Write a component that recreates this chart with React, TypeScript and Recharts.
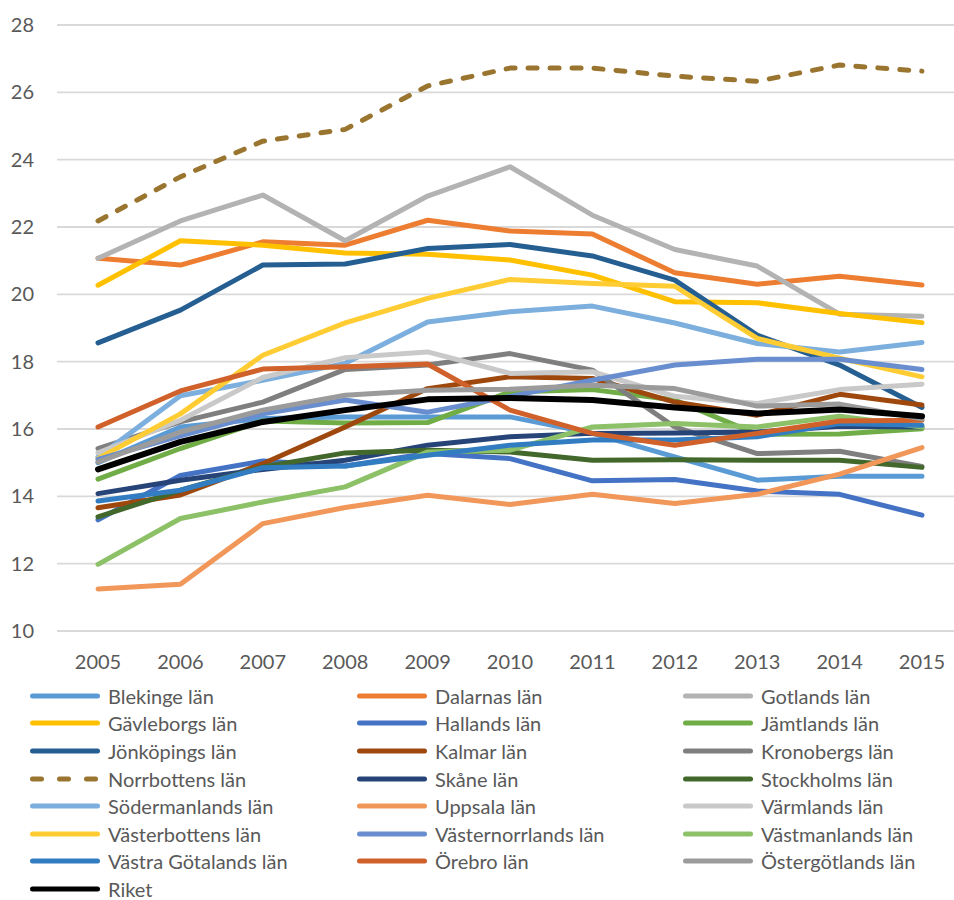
import React from 'react';
import { LineChart, Line, XAxis, YAxis, CartesianGrid, Legend } from 'recharts';

const years = ['2005', '2006', '2007', '2008', '2009', '2010', '2011', '2012', '2013', '2014', '2015'];
const yTicks = [10, 12, 14, 16, 18, 20, 22, 24, 26, 28];

const blekinge = [15.0, 16.06, 16.31, 16.36, 16.36, 16.36, 15.87, 15.17, 14.48, 14.6, 14.6];
const dalarna = [21.07, 20.87, 21.56, 21.46, 22.2, 21.88, 21.79, 20.64, 20.3, 20.54, 20.28];
const gotland = [21.07, 22.18, 22.95, 21.59, 22.92, 23.79, 22.35, 21.33, 20.84, 19.41, 19.35];
const gavleborg = [20.27, 21.59, 21.46, 21.23, 21.19, 21.02, 20.57, 19.78, 19.75, 19.43, 19.16];
const halland = [13.3, 14.62, 15.05, 14.9, 15.27, 15.12, 14.46, 14.5, 14.16, 14.06, 13.44];
const jamtland = [14.51, 15.42, 16.24, 16.18, 16.19, 17.1, 17.17, 16.86, 15.84, 15.85, 16.01];
const jonkoping = [18.56, 19.53, 20.87, 20.9, 21.36, 21.48, 21.14, 20.42, 18.79, 17.9, 16.64];
const kalmar = [13.66, 14.04, 14.97, 16.06, 17.2, 17.55, 17.5, 16.8, 16.41, 17.03, 16.71];
const kronoberg = [15.42, 16.21, 16.8, 17.77, 17.9, 18.24, 17.75, 16.06, 15.27, 15.34, 14.89];
const norrbotten = [22.18, 23.49, 24.55, 24.9, 26.19, 26.72, 26.72, 26.48, 26.33, 26.81, 26.63];
const skane = [14.08, 14.48, 14.8, 15.07, 15.52, 15.77, 15.87, 15.88, 15.91, 16.08, 16.06];
const stockholm = [13.39, 14.18, 14.87, 15.29, 15.37, 15.32, 15.07, 15.09, 15.07, 15.07, 14.86];
const sodermanland = [15.17, 16.99, 17.45, 17.95, 19.18, 19.48, 19.65, 19.15, 18.54, 18.29, 18.57];
const uppsala = [11.25, 11.39, 13.19, 13.67, 14.03, 13.76, 14.06, 13.79, 14.06, 14.66, 15.45];
const varmland = [15.29, 16.26, 17.53, 18.12, 18.29, 17.65, 17.7, 16.97, 16.76, 17.17, 17.33];
const vasterbotten = [15.12, 16.45, 18.19, 19.15, 19.88, 20.44, 20.32, 20.24, 18.69, 18.1, 17.55];
const vasternorrland = [15.1, 15.8, 16.45, 16.86, 16.5, 16.97, 17.45, 17.9, 18.07, 18.07, 17.77];
const vastmanland = [11.98, 13.34, 13.83, 14.28, 15.32, 15.37, 16.06, 16.16, 16.06, 16.38, 16.06];
const vastraGotaland = [13.86, 14.18, 14.85, 14.9, 15.22, 15.52, 15.67, 15.67, 15.77, 16.16, 16.11];
const orebro = [16.06, 17.13, 17.78, 17.85, 17.93, 16.56, 15.87, 15.52, 15.87, 16.24, 16.26];
const ostergotland = [15.02, 15.91, 16.56, 17.0, 17.15, 17.18, 17.3, 17.2, 16.68, 16.74, 16.3];
const riket = [14.8, 15.62, 16.21, 16.56, 16.88, 16.92, 16.86, 16.64, 16.46, 16.58, 16.38];

type Series = { key: string; name: string; values: number[]; color: string; width: number; dash?: string };

const series: Series[] = [
  { key: 's1', name: 'Blekinge län', values: blekinge, color: '#5B9BD5', width: 5 },
  { key: 's2', name: 'Dalarnas län', values: dalarna, color: '#ED7D31', width: 5 },
  { key: 's3', name: 'Gotlands län', values: gotland, color: '#B3B3B3', width: 5 },
  { key: 's4', name: 'Gävleborgs län', values: gavleborg, color: '#FFC000', width: 5 },
  { key: 's5', name: 'Hallands län', values: halland, color: '#4472C4', width: 5 },
  { key: 's6', name: 'Jämtlands län', values: jamtland, color: '#70AD47', width: 5 },
  { key: 's7', name: 'Jönköpings län', values: jonkoping, color: '#255E91', width: 5 },
  { key: 's8', name: 'Kalmar län', values: kalmar, color: '#9E480E', width: 5 },
  { key: 's9', name: 'Kronobergs län', values: kronoberg, color: '#7F7F7F', width: 5 },
  { key: 's10', name: 'Norrbottens län', values: norrbotten, color: '#9A7530', width: 5, dash: '9 13' },
  { key: 's11', name: 'Skåne län', values: skane, color: '#264478', width: 5 },
  { key: 's12', name: 'Stockholms län', values: stockholm, color: '#43682B', width: 5 },
  { key: 's13', name: 'Södermanlands län', values: sodermanland, color: '#7CAFDD', width: 5 },
  { key: 's14', name: 'Uppsala län', values: uppsala, color: '#F1975A', width: 5 },
  { key: 's15', name: 'Värmlands län', values: varmland, color: '#C9C9C9', width: 5 },
  { key: 's16', name: 'Västerbottens län', values: vasterbotten, color: '#FFCD33', width: 5 },
  { key: 's17', name: 'Västernorrlands län', values: vasternorrland, color: '#698ED0', width: 5 },
  { key: 's18', name: 'Västmanlands län', values: vastmanland, color: '#8CC168', width: 5 },
  { key: 's19', name: 'Västra Götalands län', values: vastraGotaland, color: '#327DC2', width: 5 },
  { key: 's20', name: 'Örebro län', values: orebro, color: '#D0612B', width: 5 },
  { key: 's21', name: 'Östergötlands län', values: ostergotland, color: '#9B9B9B', width: 5 },
  { key: 's22', name: 'Riket', values: riket, color: '#000000', width: 6 },
];

const data = years.map((year, i) => {
  const row: Record<string, string | number> = { year };
  series.forEach((s) => {
    row[s.key] = s.values[i];
  });
  return row;
});

const FONT = 'Lato, "Open Sans", sans-serif';
const TEXT = '#595959';

const renderLegend = () => (
  <div
    style={{
      display: 'grid',
      gridTemplateColumns: '327px 326px 300px',
      paddingLeft: 30,
      paddingTop: 11,
      fontFamily: FONT,
      fontSize: 20,
      lineHeight: '22px',
      color: TEXT,
    }}
  >
    {series.map((s) => (
      <div key={s.key} style={{ display: 'flex', alignItems: 'center', height: 27.6, whiteSpace: 'nowrap' }}>
        <svg width={70} height={10} style={{ marginRight: 8, flex: 'none' }}>
          <line
            x1={2.5}
            x2={67.5}
            y1={5}
            y2={5}
            stroke={s.color}
            strokeWidth={5}
            strokeLinecap="round"
            strokeDasharray={s.dash ? '9 18' : undefined}
          />
        </svg>
        <span>{s.name}</span>
      </div>
    ))}
  </div>
);

export default function App() {
  return (
    <div style={{ position: 'absolute', left: 0, top: 0, width: 954, height: 900, background: '#fff' }}>
      <LineChart width={954} height={900} data={data} margin={{ top: 25, right: 0, left: 0, bottom: 0 }}>
        <CartesianGrid vertical={false} stroke="#D9D9D9" strokeWidth={1.8} />
        <XAxis
          dataKey="year"
          height={40}
          axisLine={false}
          tickLine={false}
          tickSize={0}
          tickMargin={24}
          padding={{ left: 41, right: 32 }}
          interval={0}
          tick={{ fill: TEXT, fontSize: 20, fontFamily: FONT }}
        />
        <YAxis
          width={57}
          domain={[10, 28]}
          ticks={yTicks}
          axisLine={false}
          tickLine={false}
          tickSize={0}
          tickMargin={23}
          interval={0}
          tick={{ fill: TEXT, fontSize: 20, fontFamily: FONT }}
        />
        <Legend
          verticalAlign="bottom"
          content={renderLegend}
          wrapperStyle={{ left: 0, top: 671, width: 954, height: 229 }}
        />
        {series.map((s) => (
          <Line
            key={s.key}
            type="linear"
            dataKey={s.key}
            name={s.name}
            stroke={s.color}
            strokeWidth={s.width}
            strokeDasharray={s.dash}
            strokeLinecap="round"
            strokeLinejoin="round"
            dot={false}
            activeDot={false}
            isAnimationActive={false}
          />
        ))}
      </LineChart>
    </div>
  );
}
